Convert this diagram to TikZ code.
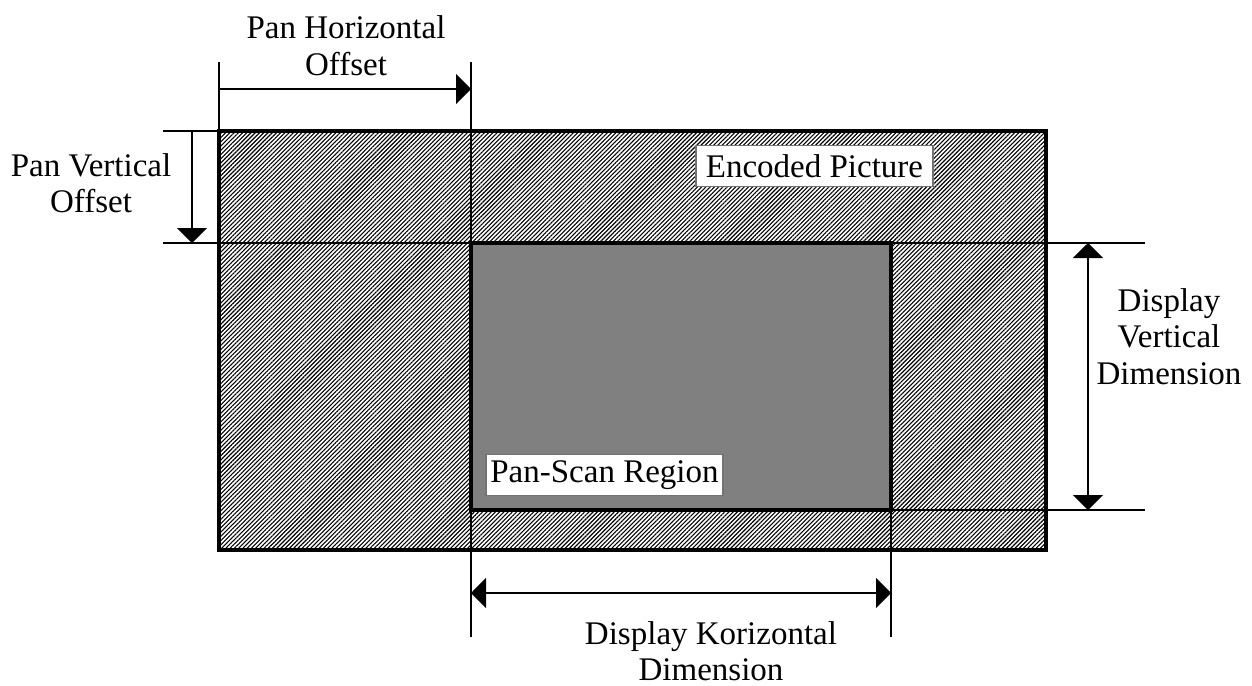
\documentclass[tikz,border=0pt]{standalone}
\usepackage{fontspec}
\setmainfont{Liberation Serif}
\usetikzlibrary{arrows.meta,patterns.meta}
\tikzset{
  thinline/.style={line width=1pt, black},
  thickbox/.style={line width=2pt, black},
  dimarrow/.style={line width=1pt, black, -{Triangle[length=7.5pt,width=15pt]}},
  dimarrows/.style={line width=1pt, black, {Triangle[length=7.5pt,width=15pt]}-{Triangle[length=7.5pt,width=15pt]}},
  lbl/.style={font=\fontsize{16.5pt}{21pt}\selectfont, inner sep=0pt, anchor=base},
  labelbox/.style={draw=black!55, line width=0.6pt, fill=white, inner sep=0pt,
    font=\fontsize{16.5pt}{21pt}\selectfont, minimum width=118.5pt, minimum height=20.5pt}
}
\begin{document}
\begin{tikzpicture}[x=0.5pt, y=-0.5pt]
\useasboundingbox (0,0) rectangle (1252,685);
% encoded picture with hatch
\coordinate (EPtl) at (219,131);
\coordinate (EPbr) at (1046,550);
\fill[pattern={Lines[angle=45, distance=1.5pt, line width=0.55pt]}, pattern color=black] (EPtl) rectangle (EPbr);
% extension coordinates
\coordinate (hL) at (219,62);
\coordinate (hR) at (471,62);
\coordinate (hRb) at (471,637);
\coordinate (kR) at (891,510);
\coordinate (kRb) at (891,637);
\coordinate (v1a) at (163,131);
\coordinate (v1b) at (219,131);
\coordinate (v2a) at (163,243);
\coordinate (v2b) at (1145,243);
\coordinate (v3a) at (891,510);
\coordinate (v3b) at (1145,510);
\draw[thinline] (hL) -- (EPtl);
\draw[thinline] (hR) -- (hRb);
\draw[thinline] (kR) -- (kRb);
\draw[thinline] (v1a) -- (v1b);
\draw[thinline] (v2a) -- (v2b);
\draw[thinline] (v3a) -- (v3b);
% pan-scan region
\coordinate (PStl) at (471,243);
\coordinate (PSbr) at (891,510);
\filldraw[thickbox, fill={rgb,255:red,128;green,128;blue,128}] (PStl) rectangle (PSbr);
\draw[thickbox] (EPtl) rectangle (EPbr);
% label boxes
\node[labelbox] (enc) at (814.5,166) {Encoded Picture};
\node[labelbox] (psr) at (604.5,475) {Pan-Scan Region};
% dimension arrows
\coordinate (ah1) at (219,89);
\coordinate (ah2) at (471,89);
\draw[dimarrow] (ah1) -- (ah2);
\coordinate (av1) at (192,131);
\coordinate (av2) at (192,243);
\draw[dimarrow] (av1) -- (av2);
\coordinate (dv1) at (1088,243);
\coordinate (dv2) at (1088,510);
\draw[dimarrows] (dv1) -- (dv2);
\coordinate (dh1) at (471,593);
\coordinate (dh2) at (891,593);
\draw[dimarrows] (dh1) -- (dh2);
% texts
\node[lbl] (phA) at (346,38) {Pan Horizontal};
\node[lbl] (phB) at (346,75) {Offset};
\node[lbl] (pvA) at (91,176) {Pan Vertical};
\node[lbl] (pvB) at (91,212) {Offset};
\node[lbl] (dvA) at (1169,311) {Display};
\node[lbl] (dvB) at (1169,347) {Vertical};
\node[lbl] (dvC) at (1169,384) {Dimension};
\node[lbl] (dhA) at (711,644) {Display Korizontal};
\node[lbl] (dhB) at (711,680) {Dimension};
\end{tikzpicture}
\end{document}
